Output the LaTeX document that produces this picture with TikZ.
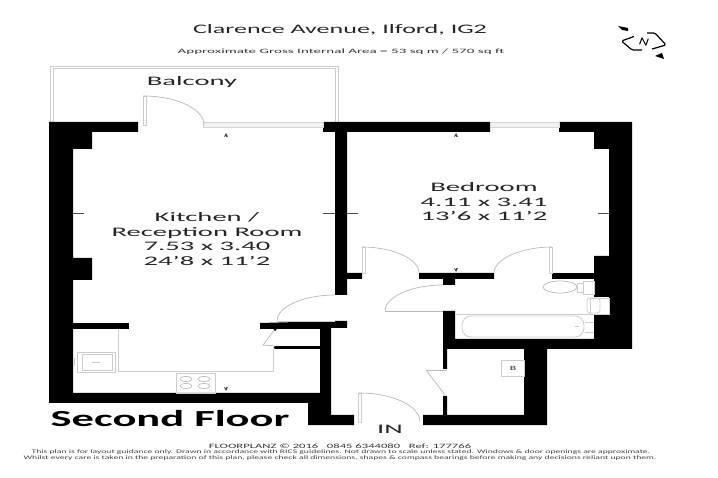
\documentclass[tikz,border=0pt]{standalone}
\usepackage{fontspec}
\setmainfont{Carlito}
\usetikzlibrary{arrows.meta}

\begin{document}
\begin{tikzpicture}
[x=1pt,y=-1pt
,wall/.style={fill=black}
,fine/.style={draw=black!20,line width=0.8pt}
,swing/.style={draw=black!28,line width=0.7pt}
,pane/.style={draw=black!16,fill=black!5,line width=0.7pt}
,tick/.style={draw=black!70,line width=0.7pt}
,stubdot/.style={fill=black,circle,inner sep=0pt,minimum size=3pt}
,lbl/.style={text=black!85,align=center,transform shape,xscale=2.2,font=\fontsize{13}{14.5}\selectfont,inner sep=0pt}
,small/.style={text=black!80,transform shape,xscale=2.28,font=\fontsize{6.6}{7}\selectfont,inner sep=0pt}
,legal/.style={text=black!75,transform shape,xscale=1.79,font=\fontsize{5.4}{6}\selectfont,inner sep=0pt}]
\useasboundingbox (0,0) rectangle (718,478);
% balcony
\draw[fine] (50,122) -- (50,66) -- (338,66) -- (338,122);
\draw[fine] (53,122) -- (53,68) -- (335,68) -- (335,122);
% outer walls
\fill[wall] (49,122) -- (138,122) -- (138,132) -- (92,132) -- (92,149) -- (73,149) -- (73,258)
 -- (92,258) -- (92,280) -- (73,280) -- (73,393) -- (320,393) -- (320,329) -- (260,329)
 -- (260,323) -- (335,321) -- (347,321) -- (347,328) -- (331,328) -- (331,415) -- (354,415)
 -- (354,425) -- (308,425) -- (308,403) -- (49,403) -- cycle;
\fill[wall] (73,323) rectangle (129,329);
\fill[wall] (323,122) -- (490,122) -- (490,132) -- (347,132) -- (347,273) -- (362,273) -- (362,279)
 -- (347,279) -- (347,295) -- (335,295) -- (335,132) -- (323,132) -- cycle;
\fill[wall] (559,122) -- (632,122) -- (632,349) -- (547,349) -- (547,425) -- (423,425) -- (423,415)
 -- (443,415) -- (443,396) -- (447,396) -- (447,415) -- (524,415) -- (524,349) -- (447,349)
 -- (447,369) -- (443,369) -- (443,311) -- (455,311) -- (455,339) -- (594,339) -- (594,315)
 -- (609,315) -- (609,297) -- (594,297) -- (594,256) -- (609,256) -- (609,149) -- (594,149)
 -- (594,132) -- (559,132) -- cycle;
\fill[wall] (419,273) -- (494,273) -- (494,279) -- (455,279) -- (455,285) -- (443,285) -- (443,279)
 -- (419,279) -- cycle;
\fill[wall] (552,273) rectangle (594,279);
\fill[wall] (275,346.5) rectangle (320,349);
% windows
\draw[pane] (203,122.5) rectangle (323,127.5);
\draw[pane] (490,122.5) rectangle (559,127.5);
% doors
\draw[fine] (143,96) rectangle (146,125);
\draw[swing] (143,96) .. controls (177,96) and (204,109) .. (204,125);
\draw[swing] (335,295) .. controls (303,295) and (277,307) .. (277,321);
\draw[fine] (277,321) -- (335,321);
\draw[fine] (362,247) rectangle (365,273);
\draw[swing] (362,247) .. controls (393,247) and (419,259) .. (419,273);
\draw[fine] (549,247) rectangle (552,273);
\draw[swing] (552,247) .. controls (521,247) and (494,259) .. (494,273);
\draw[swing] (443,285) .. controls (411,285) and (385,297) .. (385,311);
\draw[swing] (385,311) -- (443,311);
\draw[fine] (358,393) rectangle (361,422);
\draw[swing] (359,393) .. controls (393,393) and (420,406) .. (420,422);
\draw[swing] (275,329) -- (263,345) -- (275,346);
\draw[swing] (426,370) -- (447,370);
\draw[swing] (426,370) -- (445,395);
\node[stubdot] (dot1) at (275,329.5) {};
\node[stubdot] (dot2) at (275,347.5) {};
% kitchen fittings
\draw[fine] (118,329) -- (118,371.5) -- (273,371.5) -- (273,348);
\draw[fine] (77,352) rectangle (115,372);
\draw[fine] (82,354) rectangle (112,370);
\draw[fine] (92,362) -- (100,362);
\draw[fine] (74,358) -- (74,366);
\draw[fine] (176,373) rectangle (215,393);
\foreach \hx/\hy in {186/379,204/379,186/386,204/386}
 \draw[swing] (\hx,\hy) ellipse (6 and 2.5);
% bathroom fittings
\draw[swing] (560,287) ellipse (17 and 6);
\draw[fine] (577,283) rectangle (583,292);
\draw[fine] (583,281) rectangle (594,294);
\draw[fine] (590,298) rectangle (609,314);
\draw[fine,rounded corners=3pt] (587,298) rectangle (600,313);
\draw[fine] (455,314.5) -- (594,314.5);
\draw[fine,rounded corners=9pt] (462,316) rectangle (584,337);
\draw[fine] (575,326) -- (579,326);
\draw[fine] (585,322) -- (594,322);
\draw[fine] (585,332) -- (594,332);
\draw[fine] (501,360) rectangle (524,376);
% ticks
\foreach \ta/\tb in {73/84,323/335,347/358,598/609}
 \draw[tick] (\ta,213.5) -- (\tb,213.5);
\foreach \tx/\ta/\tb in {226/137/133,456/137/133,226/387/391,456/268/272}
 \draw[tick,-{Stealth[length=4pt,width=4pt]}] (\tx,\ta) -- (\tx,\tb);
% labels
\node[lbl,xscale=0.91] (title) at (340,30) {Clarence Avenue, Ilford, IG2};
\node[small] (area) at (341,52) {Approximate Gross Internal Area = 53 sq m / 570 sq ft};
\node[lbl] (balcony) at (192,82) {Balcony};
\node[lbl] (kitchen) at (207,239) {Kitchen /\\Reception Room\\7.53 x 3.40\\24'8 x 11'2};
\node[lbl] (bedroom) at (484,202) {Bedroom\\4.11 x 3.41\\13'6 x 11'2};
\node[lbl,xscale=0.88,text=black,font=\fontsize{23}{25}\selectfont\bfseries] (floor) at (170,419) {Second Floor};
\node[lbl] (in) at (390,429) {IN};
\node[small,xscale=0.8,font=\fontsize{6.5}{7}\selectfont] (boiler) at (513,368) {B};
\node[small,xscale=0.84] (firm) at (340,446) {FLOORPLANZ © 2016 \ \ 0845 6344080 \ \ Ref: 177766};
\node[legal] (legal1) at (341,452.5) {This plan is for layout guidance only. Drawn in accordance with RICS guidelines. Not drawn to scale unless stated. Windows \& door openings are approximate.};
\node[legal] (legal2) at (340,458.5) {Whilst every care is taken in the preparation of this plan, please check all dimensions, shapes \& compass bearings before making any decisions reliant upon them.};
% compass
\draw[black,line width=1.2pt,rounded corners=1.5pt] (634,36.5) -- (621.5,41) -- (632,50) -- (642,50);
\draw[black,line width=1.2pt,rounded corners=1.5pt] (647,33) -- (655,33) -- (666,45) -- (652,49);
\node[small,xscale=0.6,font=\fontsize{11}{12}\selectfont,rotate=-15,text=black] (north) at (644,42) {N};
\fill (618,26) -- (628,28) -- (628,31) -- (622,30) -- cycle;
\fill (655,56) -- (662,53) -- (664,59) -- cycle;
\end{tikzpicture}
\end{document}
